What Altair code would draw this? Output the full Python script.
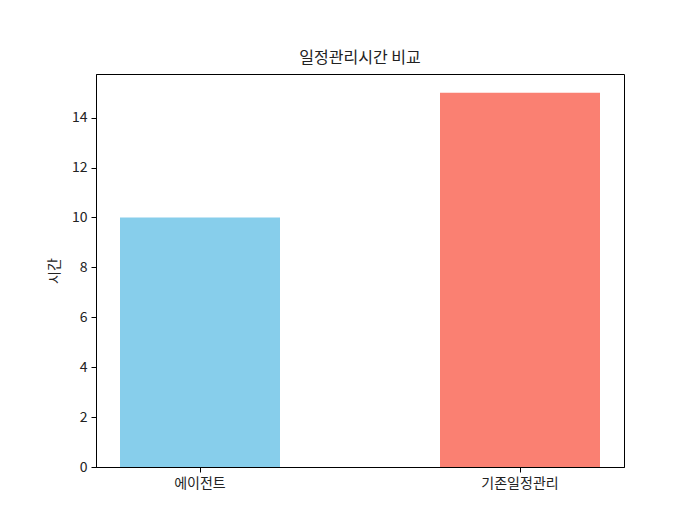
import altair as alt
import pandas as pd

categories = ["에이전트", "기존일정관리"]
hours = [10, 15]
colors = ["#87CEEB", "#FA8072"]

df = pd.DataFrame({"category": categories, "hours": hours, "color": colors})

FONT = "Noto Sans CJK KR"

bars = alt.Chart(df).mark_bar().encode(
    x=alt.X("category:N", sort=categories,
            scale=alt.Scale(paddingInner=0.5, paddingOuter=0.075),
            axis=alt.Axis(title=None, labelAngle=0, labelFontSize=14, labelFont=FONT,
                          labelColor="#222", tickColor="#000", tickSize=5, labelPadding=4,
                          domainColor="#000", grid=False)),
    y=alt.Y("hours:Q", scale=alt.Scale(domain=[0, 15.75], nice=False, zero=True),
            axis=alt.Axis(title="시간", values=[0, 2, 4, 6, 8, 10, 12, 14], titleFont=FONT,
                          titleFontSize=14, titleFontWeight="normal", titleColor="#222",
                          titlePadding=10, labelFont=FONT, labelFontSize=14,
                          labelColor="#222", tickColor="#000", tickSize=5, labelPadding=4,
                          domainColor="#000", grid=False)),
    color=alt.Color("color:N", scale=None),
).properties(
    width=528, height=393,
    title=alt.TitleParams("일정관리시간 비교", font=FONT, fontSize=16, fontWeight="normal",
                          color="#222", offset=8),
)

chart = bars.configure_view(stroke="#000", strokeWidth=1).properties(
    autosize=alt.AutoSizeParams(type="none"),
    padding={"left": 88, "top": 66, "right": 55, "bottom": 41},
    background="white",
)

chart.save("out.html", embed_options={"renderer": "svg", "actions": False})
